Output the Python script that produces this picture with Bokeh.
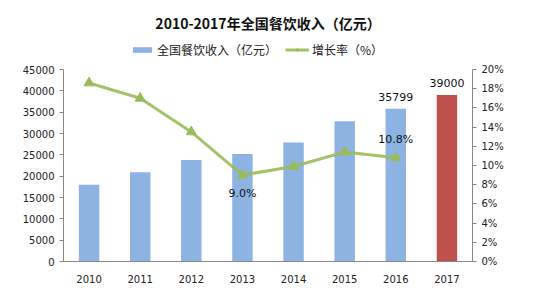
from bokeh.plotting import figure
from bokeh.models import (ColumnDataSource, Range1d, LinearAxis, FixedTicker,
                          PrintfTickFormatter, Legend, LegendItem, Title)
from bokeh.core.properties import value
from bokeh.embed import file_html
from bokeh.resources import INLINE

years = ["2010", "2011", "2012", "2013", "2014", "2015", "2016", "2017"]
revenue = [18000, 20900, 23800, 25200, 27900, 32900, 35799, 39000]
growth_years = ["2010", "2011", "2012", "2013", "2014", "2015", "2016"]
growth = [18.6, 17.0, 13.5, 9.0, 9.9, 11.4, 10.8]
left_ticks = [0, 5000, 10000, 15000, 20000, 25000, 30000, 35000, 40000, 45000]
right_ticks = [0, 2, 4, 6, 8, 10, 12, 14, 16, 18, 20]
title_text = "2010-2017年全国餐饮收入（亿元）"
bar_name = "全国餐饮收入（亿元）"
line_name = "增长率（%）"

BLUE = "#8DB3E2"
RED = "#C0504D"
GREEN = "#9BBB59"
FONT = "DejaVu Sans"
CJK = "Noto Sans CJK SC"

# layout: axis area 192px tall, frame extended 29px upward to host the legend
AXIS_H = 192
FRAME_H = 221
L_MAX, R_MAX = 45000, 20
left_end = L_MAX * FRAME_H / AXIS_H
right_end = R_MAX * FRAME_H / AXIS_H

colors = [RED if y == "2017" else BLUE for y in years]
bar_src = ColumnDataSource(dict(year=years, revenue=revenue, color=colors))
line_src = ColumnDataSource(dict(year=growth_years, growth=growth))

p = figure(frame_width=409, frame_height=FRAME_H, x_range=years,
           y_range=Range1d(0, left_end),
           output_backend="svg", toolbar_location=None,
           min_border_left=63, min_border_right=68, min_border_top=40, min_border_bottom=34)
p.extra_y_ranges = {"pct": Range1d(0, right_end)}

p.title = Title(text=title_text, align="center", text_font=CJK, text_font_size="14px",
                text_font_style="bold", text_color="#111111", offset=0, standoff=15)

bars = p.vbar(x="year", top="revenue", width=0.4, source=bar_src,
              fill_color="color", line_color=None)
ln = p.line(x="year", y="growth", source=line_src, y_range_name="pct",
            line_color=GREEN, line_width=3, line_alpha=0.9)
mk = p.scatter(x="year", y="growth", source=line_src, y_range_name="pct",
               marker="triangle", size=10, fill_color=GREEN, line_color=GREEN)

# data labels
bar_lab = ColumnDataSource(dict(year=years[-2:], revenue=revenue[-2:],
                                txt=[str(v) for v in revenue[-2:]]))
p.text(x="year", y="revenue", text="txt", source=bar_lab, text_align="center",
       text_baseline="bottom", y_offset=-8, text_font=value(FONT),
       text_font_size="11px", text_color="#111111")
i13 = growth_years.index("2013")
i16 = growth_years.index("2016")
lo_lab = ColumnDataSource(dict(year=[growth_years[i13]], g=[growth[i13]],
                               txt=["%.1f%%" % growth[i13]]))
hi_lab = ColumnDataSource(dict(year=[growth_years[i16]], g=[growth[i16]],
                               txt=["%.1f%%" % growth[i16]]))
p.text(x="year", y="g", text="txt", source=lo_lab, y_range_name="pct",
       text_align="center", text_baseline="top", y_offset=12, text_font=value(FONT),
       text_font_size="11px", text_color="#111111")
p.text(x="year", y="g", text="txt", source=hi_lab, y_range_name="pct",
       text_align="center", text_baseline="bottom", y_offset=-12, text_font=value(FONT),
       text_font_size="11px", text_color="#111111")

p.xgrid.visible = False
p.ygrid.visible = False
p.outline_line_color = None

for ax in [p.xaxis[0], p.yaxis[0]]:
    ax.axis_line_color = "#888888"
    ax.major_tick_line_color = "#888888"
    ax.major_tick_in = 0
    ax.major_tick_out = 4
    ax.minor_tick_line_color = None
    ax.major_label_text_font = FONT
    ax.major_label_text_font_size = "10px"
    ax.major_label_text_color = "#222222"
p.yaxis[0].ticker = FixedTicker(ticks=left_ticks)
p.yaxis[0].bounds = (0, L_MAX)
p.xaxis[0].major_label_standoff = 9
p.xaxis[0].major_tick_line_color = None

rax = LinearAxis(y_range_name="pct", ticker=FixedTicker(ticks=right_ticks),
                 formatter=PrintfTickFormatter(format="%d%%"), bounds=(0, R_MAX))
rax.axis_line_color = "#888888"
rax.major_tick_line_color = "#888888"
rax.major_tick_in = 0
rax.major_tick_out = 4
rax.minor_tick_line_color = None
rax.major_label_text_font = FONT
rax.major_label_text_font_size = "10px"
rax.major_label_text_color = "#222222"
p.add_layout(rax, "right")

legend = Legend(items=[LegendItem(label=bar_name, renderers=[bars], index=0),
                       LegendItem(label=line_name, renderers=[ln, mk])],
                orientation="horizontal", location=(67, FRAME_H - 18),
                label_text_font=CJK, label_text_font_size="12px",
                label_text_color="#222222", glyph_width=24, glyph_height=7,
                spacing=8, padding=0, margin=0, border_line_color=None,
                background_fill_alpha=0, label_standoff=3, label_height=14)
p.add_layout(legend, "center")

open("out.html", "w").write(file_html(p, INLINE))
